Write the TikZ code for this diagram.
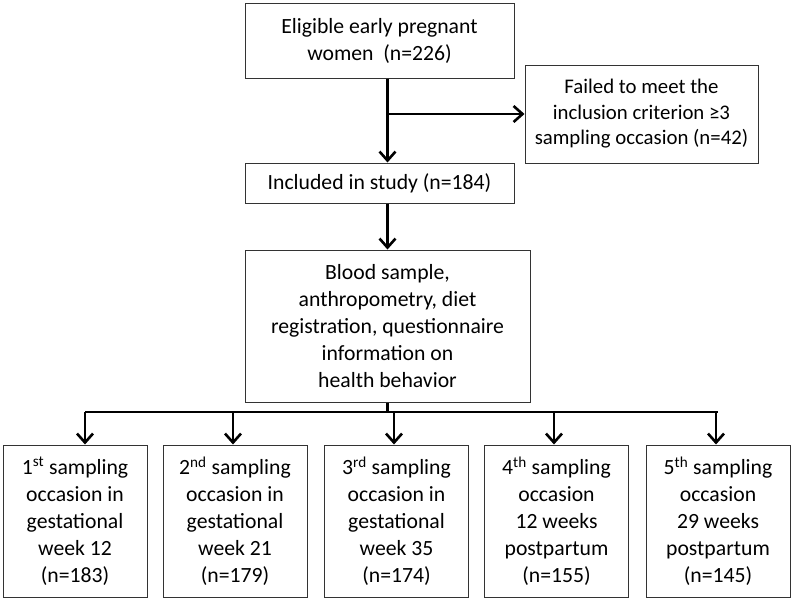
\documentclass[tikz,border=0pt]{standalone}
\usepackage{fontspec}
\setmainfont{Carlito}
\usetikzlibrary{positioning,arrows.meta}

\tikzset{
  stagebox/.style={draw=black!80, line width=1pt, align=center, inner sep=2pt,
                   font=\fontsize{21.7}{27}\selectfont},
  flow/.style={line width=2.8pt, -{Straight Barb[length=9pt,width=16pt,line width=2.6pt]}},
  bus/.style={line width=2.8pt}
}

\begin{document}
\begin{tikzpicture}[x=1pt, y=-1pt]
  \useasboundingbox (0,0) rectangle (793,600);
  % main column
  \node[stagebox, minimum width=269pt, minimum height=75pt] (elig) at (379.5,40.5)
    {Eligible early pregnant\\women~~(n=226)};
  \node[stagebox, minimum width=233pt, minimum height=98pt,
        font=\fontsize{20.8}{25.5}\selectfont] (failed) at (641.5,114)
    {Failed to meet the\\inclusion criterion ≥3\\sampling occasion (n=42)};
  \node[stagebox, minimum width=269pt, minimum height=40pt] (incl) at (379.5,183)
    {Included in study (n=184)};
  \node[stagebox, minimum width=285pt, minimum height=152pt] (blood) at (387.5,326)
    {Blood sample,\\anthropometry, diet\\registration, questionnaire\\information on\\health behavior};
  % sampling occasions
  \node[stagebox, minimum width=144pt, minimum height=152pt] (occ1) at (75,521)
    {1\textsuperscript{st} sampling\\occasion in\\gestational\\week 12\\(n=183)};
  \node[stagebox, minimum width=144pt, minimum height=152pt] (occ2) at (235,521)
    {2\textsuperscript{nd} sampling\\occasion in\\gestational\\week 21\\(n=179)};
  \node[stagebox, minimum width=144pt, minimum height=152pt] (occ3) at (396.5,521)
    {3\textsuperscript{rd} sampling\\occasion in\\gestational\\week 35\\(n=174)};
  \node[stagebox, minimum width=144pt, minimum height=152pt] (occ4) at (556.5,521)
    {4\textsuperscript{th} sampling\\occasion\\12 weeks\\postpartum\\(n=155)};
  \node[stagebox, minimum width=144pt, minimum height=152pt] (occ5) at (718,521)
    {5\textsuperscript{th} sampling\\occasion\\29 weeks\\postpartum\\(n=145)};

  % connectors
  \coordinate (split) at (blood.north |- failed.west);
  \draw[bus] (blood.north |- elig.south) -- (split);
  \draw[flow] (split) -- (failed.west);
  \draw[flow] (split) -- (blood.north |- incl.north);
  \draw[flow] (blood.north |- incl.south) -- (blood.north);

  \coordinate (busL) at (85,412);
  \coordinate (busR) at (718,412);
  \coordinate (busM) at (blood.south |- busL);
  \draw[bus] (blood.south) -- (busM);
  \draw[bus] (busL) -- (busR);
  \foreach \i/\xa in {1/85, 2/233, 3/394, 4/554, 5/716}
    \draw[flow] (\xa,412) -- (\xa,0 |- occ\i.north);
\end{tikzpicture}
\end{document}
